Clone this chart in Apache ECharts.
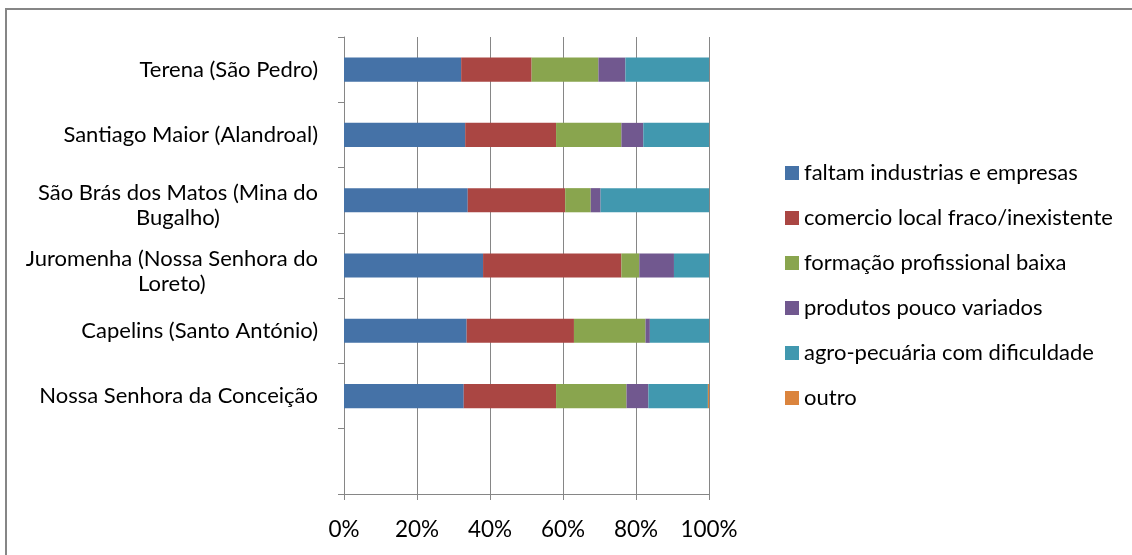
<!DOCTYPE html>
<html>
<head>
<meta charset="utf-8">
<script src="https://cdn.jsdelivr.net/npm/echarts@6/dist/echarts.min.js"></script>
<style>
html,body{margin:0;padding:0;background:#fff;}
#chart{width:1132px;height:555px;}
</style>
</head>
<body>
<div id="chart"></div>
<script>
var categories = [
  'Terena (São Pedro)',
  'Santiago Maior (Alandroal)',
  'São Brás dos Matos (Mina do\nBugalho)',
  'Juromenha (Nossa Senhora do\nLoreto)',
  'Capelins (Santo António)',
  'Nossa Senhora da Conceição',
  ''
];
var seriesNames = [
  'faltam industrias e empresas',
  'comercio local fraco/inexistente',
  'formação profissional baixa',
  'produtos pouco variados',
  'agro-pecuária com dificuldade',
  'outro'
];
var faltam    = [32.1, 33.2, 33.9, 38.1, 33.6, 32.8, null];
var comercio  = [19.3, 24.9, 26.7, 37.9, 29.4, 25.3, null];
var formacao  = [18.3, 17.9,  7.0,  4.9, 19.6, 19.3, null];
var produtos  = [ 7.4,  6.0,  2.7,  9.5,  1.2,  6.0, null];
var agro      = [22.9, 18.0, 29.7,  9.6, 16.2, 16.3, null];
var outro     = [ 0.0,  0.0,  0.0,  0.0,  0.0,  0.3, null];
var xTicks = [0, 20, 40, 60, 80, 100];

var colors = ['#4572A7', '#AA4643', '#89A54E', '#71588F', '#4198AF', '#DB843D'];
var values = [faltam, comercio, formacao, produtos, agro, outro];
var FONT = 'Lato';

var chart = echarts.init(document.getElementById('chart'), null, {renderer: 'canvas'});
var series = seriesNames.map(function (n, i) {
  return {
    name: n,
    type: 'bar',
    stack: 'total',
    barWidth: '37%',
    data: values[i],
    itemStyle: {color: colors[i]}
  };
});

chart.setOption({
  animation: false,
  backgroundColor: '#fff',
  color: colors,
  graphic: [{
    type: 'rect',
    shape: {x: 6, y: 9, width: 1400, height: 800},
    style: {fill: 'none', stroke: '#868686', lineWidth: 2}
  }],
  grid: {left: 344, right: 423, top: 37, bottom: 61, containLabel: false},
  legend: {
    orient: 'vertical',
    left: 780,
    top: 157,
    itemWidth: 14,
    itemHeight: 14,
    itemGap: 23,
    icon: 'rect',
    textStyle: {fontFamily: FONT, fontSize: 22, color: '#000'},
    data: seriesNames
  },
  xAxis: {
    type: 'value',
    min: xTicks[0],
    max: xTicks[xTicks.length - 1],
    interval: 20,
    axisLine: {show: true, lineStyle: {color: '#868686', width: 1}},
    axisTick: {show: true, length: 6, lineStyle: {color: '#868686'}},
    splitLine: {show: true, lineStyle: {color: '#868686', width: 1}},
    axisLabel: {
      margin: 24,
      fontFamily: FONT,
      fontSize: 22.5,
      color: '#000',
      formatter: '{value}%'
    }
  },
  yAxis: {
    type: 'category',
    inverse: true,
    data: categories,
    boundaryGap: true,
    axisLine: {show: true, lineStyle: {color: '#868686', width: 1}},
    axisTick: {show: true, length: 6, interval: 0, lineStyle: {color: '#868686'}},
    splitLine: {show: false},
    axisLabel: {
      interval: 0,
      margin: 26,
      fontFamily: FONT,
      fontSize: 22,
      color: '#000',
      lineHeight: 25,
      formatter: function (v) {
        var lines = v.split('\n');
        var out = lines.map(function (l) { return '{c|' + l + '}'; }).join('\n');
        if (lines.length > 1) out = '{s| }\n' + out;
        return out;
      },
      rich: {
        c: {align: 'center', fontFamily: FONT, fontSize: 22, color: '#000', lineHeight: 25},
        s: {fontSize: 1, lineHeight: 11}
      }
    }
  },
  series: series
});
</script>
</body>
</html>
